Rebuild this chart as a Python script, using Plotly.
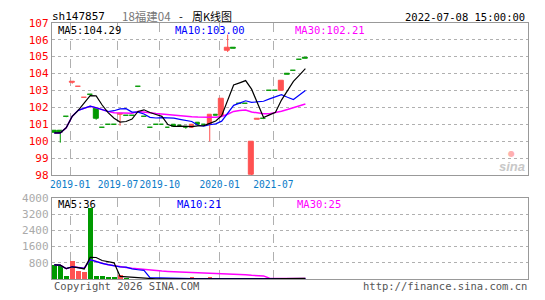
import numpy as np
import pandas as pd
import plotly.graph_objects as go

W, H = 545, 300

# ---- data (weekly candles) ----
opens  = [100.64, 100.60, 101.43, 103.48, 103.22, 102.59, 102.75, 101.90, 100.80, 100.97,
          100.97, 101.56, 101.53, 101.53, 103.21, 101.46, 100.80, 100.97, 100.97, 100.80,
          100.96, 100.91, 100.84, 100.82, 101.07, 100.97, 100.97, 101.54, 101.48, 105.36,
          105.50, 102.21, 102.21, 98.00, 101.30, 101.32, 103.00, 103.00, 102.99, 103.96,
          104.19, 104.84, 104.91]
closes = [100.49, 100.50, 101.42, 103.50, 103.23, 102.60, 102.74, 101.35, 100.79, 100.96,
          100.96, 101.60, 101.52, 101.52, 103.20, 101.45, 100.79, 100.96, 100.96, 100.79,
          100.86, 100.90, 100.82, 100.97, 100.97, 100.96, 101.56, 101.53, 102.52, 105.51,
          105.49, 102.20, 102.20, 99.99, 101.31, 101.31, 102.99, 102.99, 103.57, 103.95,
          104.18, 104.83, 104.90]
highs  = [100.64, 100.60, 101.43, 103.52, 103.23, 102.60, 102.75, 101.90, 100.80, 100.97,
          100.97, 101.62, 101.53, 101.53, 103.21, 101.46, 100.80, 100.97, 100.97, 100.80,
          100.96, 100.91, 100.84, 101.00, 101.07, 100.97, 101.56, 101.54, 102.52, 106.30,
          105.50, 102.21, 102.21, 99.99, 101.31, 101.32, 103.00, 103.00, 103.57, 103.96,
          104.19, 104.84, 104.91]
lows   = [100.49, 99.92, 101.42, 103.40, 103.22, 102.59, 102.74, 101.27, 100.79, 100.96,
          100.96, 100.92, 101.52, 101.52, 103.20, 101.45, 100.79, 100.96, 100.96, 100.79,
          100.86, 100.90, 100.74, 100.80, 100.97, 100.96, 99.99, 101.53, 101.48, 105.27,
          105.49, 102.20, 102.20, 97.90, 101.30, 101.31, 102.99, 102.99, 102.99, 103.95,
          104.18, 104.83, 104.90]
volumes = [700, 670, 175, 880, 420, 360, 3520, 140, 140, 100,
           100, 210, 20, 15, 15, 15, 15, 15, 15, 15,
           15, 15, 10, 90, 15, 15, 110, 15, 20, 60,
           50, 10, 10, 10, 5, 5, 5, 5, 80, 20,
           50, 15, 15]

tick_idx = [3, 11, 18, 28, 37]
tick_text = ["2019-01", "2019-07", "2019-10", "2020-01", "2021-07"]
price_ticks = [98, 99, 100, 101, 102, 103, 104, 105, 106, 107]
vol_ticks = [800, 1600, 2400, 3200, 4000]

code = "sh147857"
name = "18福建04"
title_dash = "-"
title_kind = "周K线图"
stamp = "2022-07-08 15:00:00"

# ---- derived ----
n = len(closes)
x = np.arange(n)
o = np.array(opens); c = np.array(closes); hi = np.array(highs); lo = np.array(lows)
up = c > o
RED, GREEN = "#ff5252", "#009900"
cols = [RED if u else GREEN for u in up]
ma = {k: pd.Series(c).rolling(k, min_periods=1).mean().values for k in (5, 10, 30)}
vma = {k: pd.Series(volumes, dtype=float).rolling(k, min_periods=1).mean().values for k in (5, 10, 30)}

fig = go.Figure()

# wicks
for flag, col in ((True, RED), (False, GREEN)):
    wx, wy = [], []
    for i in range(n):
        if up[i] == flag:
            wx += [x[i], x[i], None]
            wy += [lo[i], hi[i], None]
    fig.add_trace(go.Scatter(x=wx, y=wy, mode="lines", line=dict(color=col, width=1),
                             hoverinfo="skip", xaxis="x", yaxis="y"))
# bodies
fig.add_trace(go.Bar(x=x, y=np.abs(c - o), base=np.minimum(o, c), width=0.8,
                     marker=dict(color=cols, line=dict(color=cols, width=1)),
                     xaxis="x", yaxis="y"))
# price MAs
for k, col, w in ((30, "#ff00ff", 1.5), (10, "#0000ff", 1.2), (5, "#000000", 1.2)):
    fig.add_trace(go.Scatter(x=x, y=ma[k], mode="lines", line=dict(color=col, width=w),
                             xaxis="x", yaxis="y"))
# volume bars
fig.add_trace(go.Bar(x=x, y=volumes, width=0.8, marker=dict(color=cols, line=dict(width=0)),
                     xaxis="x2", yaxis="y2"))
for k, col, w in ((30, "#ff00ff", 1.5), (10, "#0000ff", 1.2), (5, "#000000", 1.2)):
    fig.add_trace(go.Scatter(x=x, y=vma[k], mode="lines", line=dict(color=col, width=w),
                             xaxis="x2", yaxis="y2"))

MONO = "DejaVu Sans Mono"
xr = [(50 - 52.5) / 6, (528 - 52.5) / 6]
xdom = [50 / W, 528 / W]
grid_x = [t - 0.35 for t in tick_idx]
common_x = dict(range=xr, domain=xdom, showline=True, linecolor="#999", linewidth=1, mirror=True,
                showgrid=True, gridcolor="#b0b0b0", griddash="dash", gridwidth=1,
                tickvals=grid_x, zeroline=False, ticks="", tickangle=0)
fig.update_layout(
    width=W, height=H, margin=dict(l=0, r=0, t=0, b=0),
    paper_bgcolor="white", plot_bgcolor="white", showlegend=False, bargap=0,
    xaxis=dict(**common_x, anchor="y", ticktext=tick_text,
               tickfont=dict(family=MONO, size=9.6, color="#0a7bc8")),
    xaxis2=dict(**common_x, anchor="y2", showticklabels=False),
    yaxis=dict(domain=[1 - 176.8 / H, 1 - 17.5 / H], range=[98, 107], tickvals=price_ticks,
               showline=True, linecolor="#999", mirror=True, showgrid=True, gridcolor="#b0b0b0",
               griddash="dot", zeroline=False, ticks="",
               tickfont=dict(family=MONO, size=11, color="#ff0000")),
    yaxis2=dict(domain=[1 - 285.5 / H, 1 - 200.5 / H], range=[0, 4000], tickvals=vol_ticks,
                showline=True, linecolor="#999", mirror=True, showgrid=True, gridcolor="#b0b0b0",
                griddash="dot", zeroline=False, ticks="",
                tickfont=dict(family=MONO, size=11, color="#aaaaaa")),
)

def ann(px, py, text, color, size=10, xanchor="left", family=MONO, **kw):
    fig.add_annotation(x=px / W, y=1 - py / H, xref="paper", yref="paper", text=text,
                       showarrow=False, xanchor=xanchor, yanchor="middle",
                       font=dict(family=family, size=size, color=color), **kw)

ann(48, 10.5, code, "#000000", 11)
ann(118, 10, name, "#777777", 11.5, family="Noto Sans CJK SC")
ann(179.5, 10, title_dash, "#000000", 11, xanchor="center", family="Noto Sans CJK SC")
ann(189, 10, title_kind, "#000000", 11, family="Noto Sans CJK SC")
ann(527, 11.5, stamp, "#000000", 10.5, xanchor="right")
ann(54, 25, f"MA5:{ma[5][-1]:.2f}", "#000000", 10.5)
ann(172, 25, f"MA10:{ma[10][-1]:.2f}", "#0000ff", 10.5)
ann(292, 25, f"MA30:{ma[30][-1]:.2f}", "#ff00ff", 10.5)
ann(54, 206.5, f"MA5:{vma[5][-1]:.0f}", "#000000", 10.5)
ann(174, 206.5, f"MA10:{vma[10][-1]:.0f}", "#0000ff", 10.5)
ann(294, 206.5, f"MA30:{vma[30][-1]:.0f}", "#ff00ff", 10.5)
ann(50, 293, "Copyright 2026 SINA.COM", "#555555", 10.5)
ann(529, 293, "http://finance.sina.com.cn", "#555555", 10.5, xanchor="right")
ann(527, 168, "<i><b>sina</b></i>", "#c8c8c8", 13, xanchor="right", family="Arial")
ann(511, 154, "●", "#ffb0b0", 8, xanchor="center", family="DejaVu Sans")

fig.write_html("out.html")
